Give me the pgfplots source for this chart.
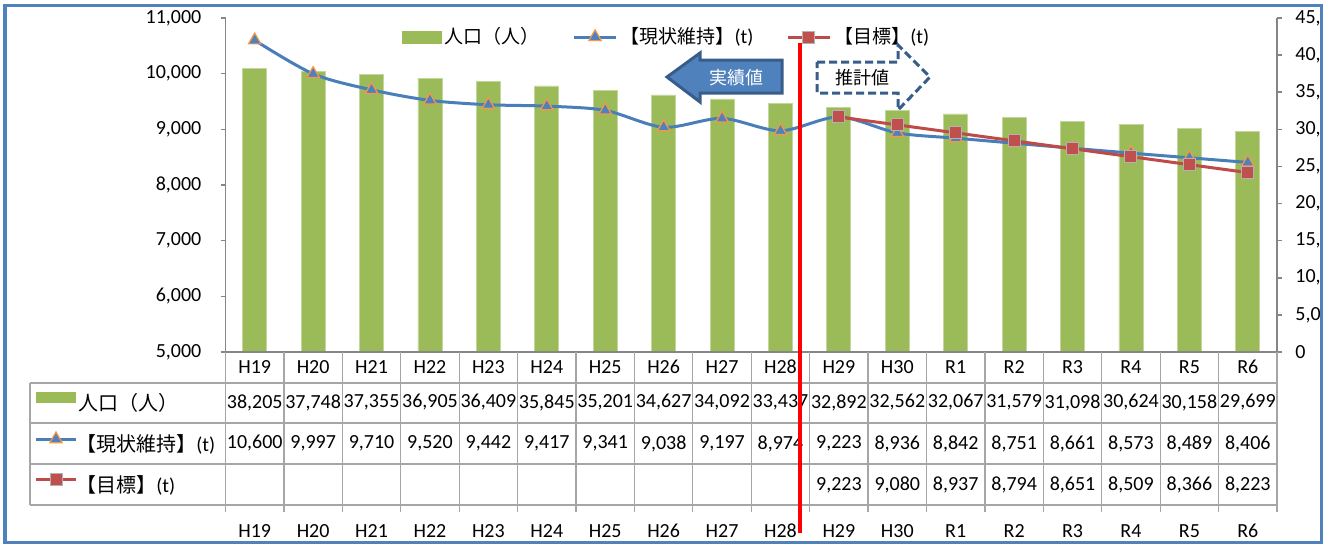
\documentclass[border=0pt]{standalone}
\usepackage{fontspec}
\setmainfont{Carlito}
\newfontfamily\cjk{Noto Sans CJK JP}
\usepackage{pgfplots}
\usepackage{pgfplotstable}
\pgfplotsset{compat=1.18}
\definecolor{barG}{HTML}{9BBB59}
\definecolor{lineB}{HTML}{4A7EBB}
\definecolor{mkB}{HTML}{4F81BD}
\definecolor{mkO}{HTML}{F79646}
\definecolor{lineR}{HTML}{BE4B48}
\definecolor{mkR}{HTML}{C0504D}
\definecolor{axG}{HTML}{868686}
\definecolor{tabG}{HTML}{A6A6A6}
\definecolor{frameB}{HTML}{4F81BD}
\definecolor{arrowB}{HTML}{4F81BD}
\definecolor{arrowD}{HTML}{385D8A}
\newcommand\fs{\fontsize{10}{12}\selectfont}

\pgfplotstableread{
idx pop sq lab
0 38205 10600 H19
1 37748 9997 H20
2 37355 9710 H21
3 36905 9520 H22
4 36409 9442 H23
5 35845 9417 H24
6 35201 9341 H25
7 34627 9038 H26
8 34092 9197 H27
9 33437 8974 H28
10 32892 9223 H29
11 32562 8936 H30
12 32067 8842 R1
13 31579 8751 R2
14 31098 8661 R3
15 30624 8573 R4
16 30158 8489 R5
17 29699 8406 R6
}\data

\pgfplotstableread{
idx tg
10 9223
11 9080
12 8937
13 8794
14 8651
15 8509
16 8366
17 8223
}\target

\pgfplotsset{
  common/.style={
    scale only axis, width=525.75pt, xmin=-0.5, xmax=17.5,
    anchor=south west,
    scaled y ticks=false,
    /pgf/number format/1000 sep={,},
    /pgf/number format/assume math mode=true,
    tick align=outside, major tick length=2.5pt,
    every tick label/.append style={font=\fs},
    axis line style={axG, line width=0.8pt},
    every tick/.append style={axG, line width=0.8pt},
  },
  blueline/.style={lineB, line width=1.5pt, mark=triangle*, mark size=3.6pt,
    mark options={fill=mkB, draw=mkO, line width=0.6pt, solid}},
  redline/.style={lineR, line width=1.5pt, mark=square*, mark size=3pt,
    mark options={fill=mkR, draw=gray!60, line width=0.5pt, solid}},
}

\begin{document}
\begin{tikzpicture}
\path[use as bounding box] (0,0) rectangle (668pt,-273pt);
\begin{scope}
\clip (0,0) rectangle (660pt,-273pt);
% bars on right axis
\begin{axis}[common, at={(112.75pt,-176pt)}, height=167pt,
  ymin=0, ymax=45000, axis x line=none, axis y line*=right,
  ytick={0,5000,...,45000},
  yticklabel style={anchor=west, inner sep=0pt, xshift=6.5pt},
  ybar, bar width=12pt, enlarge x limits=false]
\addplot[fill=barG, draw=barG!60!white, line width=0.4pt] table[x=idx, y=pop] {\data};
\end{axis}
% lines on left axis
\begin{axis}[common, at={(112.75pt,-176pt)}, height=167pt,
  ymin=5000, ymax=11000, axis y line*=left, axis x line*=bottom,
  xtick=\empty, ytick={5000,6000,...,11000},
  yticklabel style={anchor=east, inner sep=0pt, xshift=-9.4pt},
  legend image code/.code={\draw[mark repeat=2, mark phase=2, #1] plot coordinates {(0pt,0pt) (10.5pt,0pt) (21pt,0pt)};},
  legend style={at={(0.4199,0.9431)}, anchor=center, draw=none, fill=none,
    legend columns=3, font=\fs, nodes={inner sep=1.5pt},
    /tikz/every even column/.append style={column sep=15pt}},
  ]
\addlegendimage{legend image code/.code={\fill[barG] (0pt,-3pt) rectangle (19.5pt,3pt);}}
\addlegendentry{\cjk\fontsize{9.5}{11}\selectfont 人口（人）}
\addplot[blueline, smooth, tension=0.5] table[x=idx, y=sq] {\data};
\addlegendentry{{\cjk\fontsize{9.5}{11}\selectfont 【現状維持】}(t)}
\addplot[redline] table[x=idx, y=tg] {\target};
\addlegendentry{{\cjk\fontsize{9.5}{11}\selectfont 【目標】}(t)}
\end{axis}
% data table
\begin{axis}[common, at={(112.75pt,-272.5pt)}, height=96.5pt,
  ymin=0, ymax=193, axis lines=none, xtick=\empty, ytick=\empty, clip=false,
  every node near coord/.append style={anchor=center, font=\fs, inner sep=0pt, text=black}]
\addplot[draw=none, mark=none, nodes near coords, point meta=explicit symbolic] table[x=idx, y expr=178, meta=lab] {\data};
\addplot[draw=none, mark=none, nodes near coords, point meta=explicit symbolic] table[x=idx, y expr=14, meta=lab] {\data};
\addplot[draw=none, mark=none, nodes near coords, point meta=explicit] table[x=idx, y expr=142.5, meta=pop] {\data};
\addplot[draw=none, mark=none, nodes near coords, point meta=explicit] table[x=idx, y expr=101.5, meta=sq] {\data};
\addplot[draw=none, mark=none, nodes near coords, point meta=explicit] table[x=idx, y expr=60, meta=tg] {\target};
\end{axis}
\end{scope}
% table grid
\foreach \k in {0,...,18}{
  \draw[tabG, line width=0.6pt] ({112.75pt+\k*29.2083pt},-176pt) -- ++(0,-80pt);
}
\foreach \yy in {-191.5,-211.5,-232,-252.5}{
  \draw[tabG, line width=0.6pt] (15pt,\yy pt) -- (638.5pt,\yy pt);
}
\draw[tabG, line width=0.6pt] (15pt,-191.5pt) -- (15pt,-252.5pt);
% table legend keys
\fill[barG] (18pt,-196pt) rectangle (38pt,-201.5pt);
\node[anchor=west, inner sep=0pt, font=\cjk\fontsize{10}{12}\selectfont] at (39pt,-201.5pt) {人口（人）};
\draw[lineB, line width=1.5pt] (18pt,-219.5pt) -- (38pt,-219.5pt);
\filldraw[fill=mkB, draw=mkO, line width=0.6pt] (28pt,-216pt) -- (31.1pt,-221.4pt) -- (24.9pt,-221.4pt) -- cycle;
\node[anchor=west, inner sep=0pt, font=\fs] at (38pt,-222pt) {{\cjk 【現状維持】}(t)};
\draw[lineR, line width=1.5pt] (18pt,-239.5pt) -- (38pt,-239.5pt);
\filldraw[fill=mkR, draw=gray!60, line width=0.5pt] (25pt,-236.5pt) rectangle (31pt,-242.5pt);
\node[anchor=west, inner sep=0pt, font=\fs] at (38pt,-242.5pt) {{\cjk 【目標】}(t)};
% annotation arrows
\filldraw[fill=arrowB, draw=arrowD, line width=1.5pt, line join=miter]
  (333.5pt,-38.5pt) -- (350pt,-26.5pt) -- (350pt,-30pt) -- (391pt,-30pt) -- (391pt,-46.5pt)
  -- (350pt,-46.5pt) -- (350pt,-51pt) -- cycle;
\node[text=white, font=\cjk\fontsize{9}{11}\selectfont] at (368pt,-39pt) {実績値};
\draw[arrowD, line width=1.5pt, dash pattern=on 4pt off 2pt, line join=miter]
  (408.5pt,-31pt) -- (449pt,-31pt) -- (449pt,-22.5pt) -- (465pt,-38.5pt) -- (449pt,-55pt)
  -- (449pt,-46.5pt) -- (408.5pt,-46.5pt) -- cycle;
\node[text=black, font=\cjk\fontsize{9}{11}\selectfont] at (431pt,-39pt) {推計値};
% divider
\draw[red, line width=2pt] (399.75pt,-21.5pt) -- (399.75pt,-266.5pt);
% frame
\draw[frameB, line width=1.75pt] (2.5pt,-2.75pt) rectangle (660.75pt,-271.25pt);
\end{tikzpicture}
\end{document}
